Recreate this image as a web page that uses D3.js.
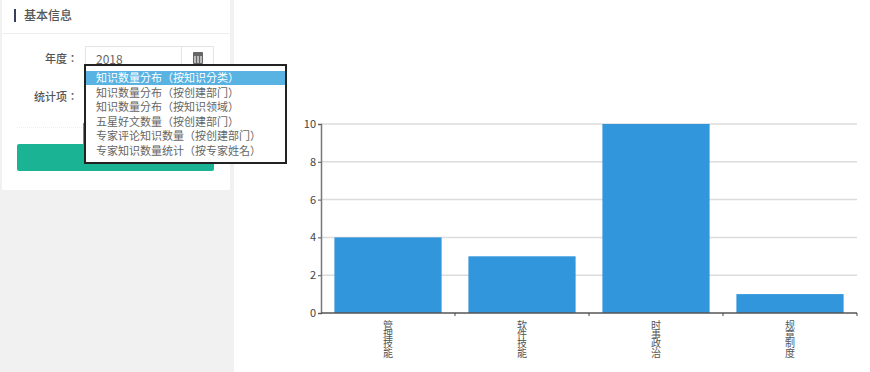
<!DOCTYPE html>
<html>
<head>
<meta charset="utf-8">
<script src="https://cdn.jsdelivr.net/npm/d3@7"></script>
<style>
  html, body { margin: 0; padding: 0; background: #fff; overflow: hidden; }
  svg { display: block; }
  text { font-family: "Noto Sans CJK TC", "Liberation Sans", sans-serif; }
  text.cat { writing-mode: vertical-rl; letter-spacing: -0.7px; }
</style>
</head>
<body>
<div id="chart"></div>
<script>
// chart values
const categories = ['管理技能', '软件技能', '时事政治', '规章制度'];
const counts = [4, 3, 10, 1];
const yTicks = [0, 2, 4, 6, 8, 10];

// sidebar form texts
const panelTitle = '基本信息';
const yearLabel = '年度：';
const yearValue = '2018';
const itemLabel = '统计项：';
const menuItems = [
  '知识数量分布（按知识分类）',
  '知识数量分布（按创建部门）',
  '知识数量分布（按知识领域）',
  '五星好文数量（按创建部门）',
  '专家评论知识数量（按创建部门）',
  '专家知识数量统计（按专家姓名）'
];

const width = 870, height = 372;
const margin = {top: 124, right: 13, bottom: 59, left: 321};
const innerW = width - margin.left - margin.right;
const innerH = height - margin.top - margin.bottom;

const svg = d3.select('#chart').append('svg')
  .attr('width', width)
  .attr('height', height);

drawPanel();
drawChart();

function drawPanel() {
  const p = svg.append('g');

  p.append('rect').attr('x', 0).attr('y', 0).attr('width', 234).attr('height', height).attr('fill', '#f1f1f1');
  p.append('rect').attr('x', 2).attr('y', 0).attr('width', 228).attr('height', 190).attr('fill', '#fff');
  p.append('rect').attr('x', 14).attr('y', 9).attr('width', 2).attr('height', 13).attr('fill', '#34405c');
  p.append('text').attr('x', 24).attr('y', 20).attr('font-size', 12).attr('font-weight', 500)
    .attr('fill', '#555').text(panelTitle);
  p.append('line').attr('x1', 2).attr('x2', 230).attr('y1', 33.5).attr('y2', 33.5).attr('stroke', '#eee');

  p.append('text').attr('x', 78).attr('y', 63).attr('text-anchor', 'end').attr('font-size', 11)
    .attr('font-weight', 500).attr('fill', '#555').text(yearLabel);
  p.append('text').attr('x', 78).attr('y', 101).attr('text-anchor', 'end').attr('font-size', 11)
    .attr('font-weight', 500).attr('fill', '#555').text(itemLabel);

  // year input + calendar addon
  p.append('rect').attr('x', 85.5).attr('y', 46.5).attr('width', 128).attr('height', 24)
    .attr('fill', '#fff').attr('stroke', '#e5e5e5');
  p.append('line').attr('x1', 181.5).attr('x2', 181.5).attr('y1', 46.5).attr('y2', 70).attr('stroke', '#e5e5e5');
  p.append('text').attr('x', 96).attr('y', 64).attr('font-size', 12).attr('fill', '#666').text(yearValue);
  const cal = p.append('g').attr('transform', 'translate(193,52)');
  cal.append('rect').attr('width', 10).attr('height', 12).attr('rx', 1).attr('fill', '#666');
  d3.range(3).forEach(i => {
    cal.append('rect').attr('x', 1 + i * 3).attr('y', 4).attr('width', 2).attr('height', 7).attr('fill', '#bbb');
  });

  p.append('line').attr('x1', 17).attr('x2', 214).attr('y1', 127.5).attr('y2', 127.5)
    .attr('stroke', '#eee').attr('stroke-dasharray', '1,1');
  p.append('rect').attr('x', 83).attr('y', 123).attr('width', 2).attr('height', 22).attr('fill', '#1ab394');
  p.append('rect').attr('x', 17).attr('y', 144).attr('width', 197).attr('height', 27).attr('rx', 2)
    .attr('fill', '#1ab394');

  // open dropdown
  const menu = p.append('g');
  menu.append('rect').attr('x', 85).attr('y', 65).attr('width', 201).attr('height', 98)
    .attr('fill', '#fff').attr('stroke', '#222').attr('stroke-width', 2);
  menu.append('rect').attr('x', 86).attr('y', 71).attr('width', 199).attr('height', 14).attr('fill', '#58b2e2');

  const rowY = d3.scalePoint().domain(d3.range(menuItems.length)).range([82, 155]);
  menu.selectAll('text.item')
    .data(menuItems)
    .enter().append('text')
    .attr('class', 'item')
    .attr('x', 96)
    .attr('y', (d, i) => rowY(i))
    .attr('font-size', 11)
    .attr('fill', (d, i) => i === 0 ? '#fff' : '#666')
    .text(d => d);
}

function drawChart() {
  const x = d3.scaleBand().domain(categories).range([0, innerW]).paddingInner(0.2).paddingOuter(0.1);
  const y = d3.scaleLinear().domain([0, 10]).range([innerH, 0]);

  const g = svg.append('g').attr('transform', `translate(${margin.left},${margin.top})`);

  // grid lines
  g.append('g')
    .selectAll('line')
    .data(yTicks.filter(d => d > 0))
    .enter().append('line')
    .attr('x1', 0)
    .attr('x2', innerW)
    .attr('y1', d => y(d))
    .attr('y2', d => y(d))
    .attr('stroke', '#dcdcdc')
    .attr('stroke-width', 1.5);

  g.selectAll('rect.bar')
    .data(categories)
    .enter().append('rect')
    .attr('class', 'bar')
    .attr('x', d => x(d))
    .attr('y', (d, i) => y(counts[i]))
    .attr('width', x.bandwidth())
    .attr('height', (d, i) => innerH - y(counts[i]))
    .attr('fill', '#3296dc');

  const yAxis = g.append('g').call(d3.axisLeft(y).tickValues(yTicks).tickSize(3).tickPadding(2));
  yAxis.selectAll('text').attr('font-size', 11).attr('fill', '#444');
  yAxis.select('.domain').attr('stroke', '#777').attr('stroke-width', 1.5);
  yAxis.selectAll('.tick line').attr('stroke', '#555');

  // ticks sit on the band edges, not the centres
  const xAxis = g.append('g').attr('transform', `translate(0,${innerH})`);
  xAxis.append('line').attr('x1', 0).attr('x2', innerW).attr('stroke', '#555').attr('stroke-width', 1.5);
  xAxis.selectAll('line.tick')
    .data(categories)
    .enter().append('line')
    .attr('class', 'tick')
    .attr('x1', d => x(d) + x.bandwidth() + x.step() * x.paddingInner() / 2)
    .attr('x2', d => x(d) + x.bandwidth() + x.step() * x.paddingInner() / 2)
    .attr('y1', 0)
    .attr('y2', 3)
    .attr('stroke', '#444');

  // one vertical text per category, so characters stack top to bottom
  xAxis.selectAll('text.cat')
    .data(categories)
    .enter().append('text')
    .attr('class', 'cat')
    .attr('x', d => x(d) + x.bandwidth() / 2)
    .attr('y', 7)
    .attr('font-size', 10)
    .attr('fill', '#555')
    .text(d => d);
}
</script>
</body>
</html>
